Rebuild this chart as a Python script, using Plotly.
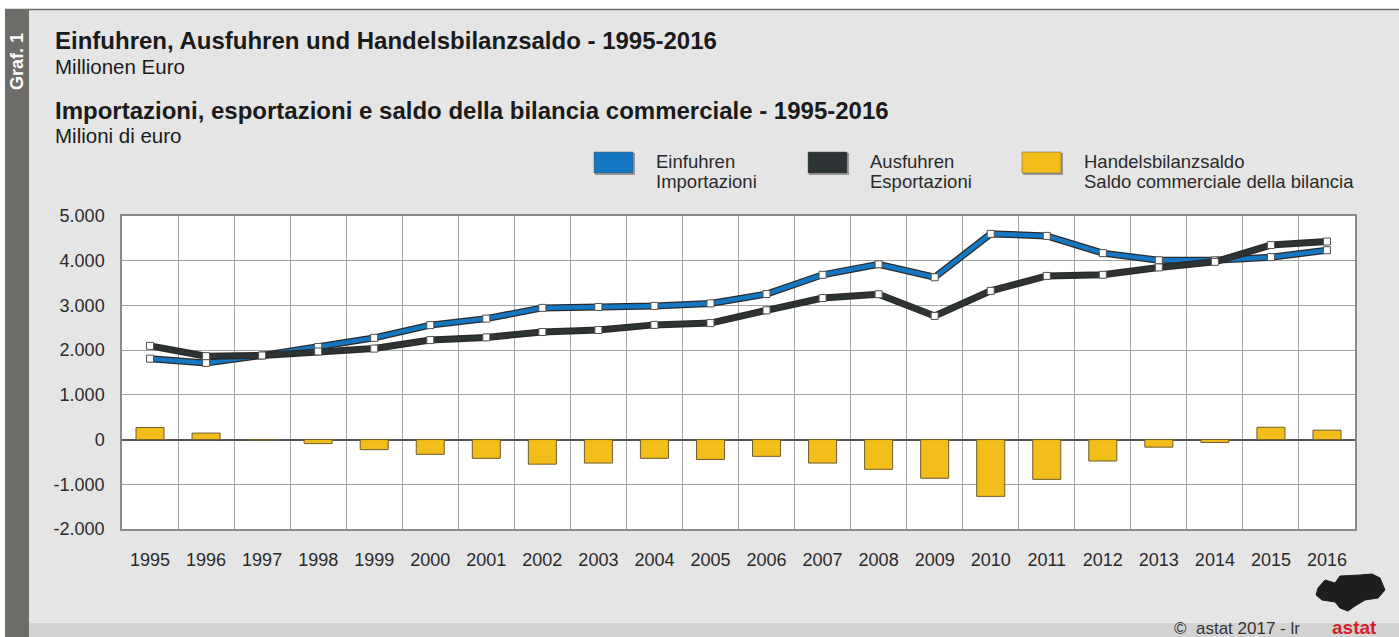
import plotly.graph_objects as go

# data (Mio. Euro)
years = [str(y) for y in range(1995, 2017)]
imports = [1810, 1715, 1880, 2070, 2275, 2560, 2705, 2945, 2965, 2990, 3045, 3255,
           3685, 3920, 3630, 4600, 4555, 4170, 4010, 4010, 4080, 4235]
exports = [2095, 1865, 1880, 1970, 2035, 2225, 2285, 2405, 2450, 2565, 2605, 2890,
           3165, 3250, 2765, 3325, 3660, 3685, 3850, 3975, 4350, 4430]
balance = [270, 145, -10, -90, -225, -330, -420, -550, -525, -420, -445, -375,
           -525, -665, -865, -1270, -890, -480, -170, -65, 275, 210]

y_ticks = [5000, 4000, 3000, 2000, 1000, 0, -1000, -2000]
y_labels = ['5.000', '4.000', '3.000', '2.000', '1.000', '0', '-1.000', '-2.000']

legend_names = [('Einfuhren', 'Importazioni'),
                ('Ausfuhren', 'Esportazioni'),
                ('Handelsbilanzsaldo', 'Saldo commerciale della bilancia')]

BLUE = '#1577c1'
BLACK = '#2e3335'
YELLOW = '#f3bd1c'
BG = '#e5e5e5'
FONT = 'Liberation Sans, Arial, sans-serif'

W, H = 1399, 637
L, R, T, B = 122, 1355, 216, 529  # plot area in pixels


def px(x):
    return (x - L) / (R - L)


def py(y):
    return (B - y) / (B - T)


fig = go.Figure()

fig.add_trace(go.Bar(
    x=years, y=balance, width=0.5,
    marker=dict(color=YELLOW, line=dict(color='#6f5d2a', width=1)),
    showlegend=False, hoverinfo='x+y'
))

# lines drawn twice: dark outline below, coloured line + markers on top
for vals, col in [(imports, BLUE), (exports, BLACK)]:
    fig.add_trace(go.Scatter(
        x=years, y=vals, mode='lines',
        line=dict(color='#2a2a2a', width=7),
        showlegend=False, hoverinfo='skip'
    ))
    fig.add_trace(go.Scatter(
        x=years, y=vals, mode='lines+markers',
        line=dict(color=col, width=4.5),
        marker=dict(symbol='square', size=7, color='white',
                    line=dict(color='#555555', width=1)),
        showlegend=False
    ))

shapes = []
annotations = []

# page background pieces
shapes.append(dict(type='rect', xref='paper', yref='paper', layer='below',
                   x0=px(0), x1=px(W), y0=py(0), y1=py(9),
                   fillcolor='white', line=dict(width=0)))
shapes.append(dict(type='rect', xref='paper', yref='paper', layer='below',
                   x0=px(0), x1=px(5), y0=py(0), y1=py(H),
                   fillcolor='white', line=dict(width=0)))
shapes.append(dict(type='line', xref='paper', yref='paper', layer='below',
                   x0=px(5), x1=px(W), y0=py(9.5), y1=py(9.5),
                   line=dict(color='#6e6c69', width=1.5)))
shapes.append(dict(type='rect', xref='paper', yref='paper', layer='below',
                   x0=px(5), x1=px(29), y0=py(9), y1=py(H),
                   fillcolor='#6e6c69', line=dict(width=0)))
shapes.append(dict(type='rect', xref='paper', yref='paper', layer='below',
                   x0=px(29), x1=px(W), y0=py(623), y1=py(H),
                   fillcolor='#d3d3d3', line=dict(width=0)))

annotations.append(dict(text='<b>Graf. 1</b>', textangle=-90, x=px(17), y=py(62),
                        xref='paper', yref='paper', xanchor='center', yanchor='middle',
                        showarrow=False,
                        font=dict(size=18, color='white', family=FONT)))

# titles
title_lines = [
    ('<b>Einfuhren, Ausfuhren und Handelsbilanzsaldo - 1995-2016</b>', 41, 24),
    ('Millionen Euro', 66, 20.5),
    ('<b>Importazioni, esportazioni e saldo della bilancia commerciale - 1995-2016</b>', 110, 24),
    ('Milioni di euro', 135, 20.5),
]
for txt, yy, sz in title_lines:
    annotations.append(dict(text=txt, x=px(53), y=py(yy), xref='paper', yref='paper',
                            xanchor='left', yanchor='middle', showarrow=False,
                            font=dict(size=sz, color='#1a1a1a', family=FONT)))

# legend
leg_x = [594, 808, 1022]
for (de, it), col, x0 in zip(legend_names, [BLUE, BLACK, YELLOW], leg_x):
    shapes.append(dict(type='rect', xref='paper', yref='paper',
                       x0=px(x0 + 1), x1=px(x0 + 41), y0=py(153), y1=py(175),
                       fillcolor='#9a9a9a', line=dict(width=0)))
    shapes.append(dict(type='rect', xref='paper', yref='paper',
                       x0=px(x0), x1=px(x0 + 39), y0=py(152), y1=py(173),
                       fillcolor=col, line=dict(color='#555555', width=0.5)))
    for txt, yy in [(de, 161), (it, 182)]:
        annotations.append(dict(text=txt, x=px(x0 + 60), y=py(yy), xref='paper', yref='paper',
                                xanchor='left', yanchor='middle', showarrow=False,
                                font=dict(size=18.5, color='#2a2a2a', family=FONT)))

# footer
annotations.append(dict(text='©  astat 2017 - lr', x=px(1302), y=py(628), xref='paper', yref='paper',
                        xanchor='right', yanchor='middle', showarrow=False,
                        font=dict(size=17, color='#333333', family=FONT)))
annotations.append(dict(text='<b>astat</b>', x=px(1354), y=py(627), xref='paper', yref='paper',
                        xanchor='center', yanchor='middle', showarrow=False,
                        font=dict(size=19, color='#d4202a', family=FONT)))

# logo: rough outline of the dotted map
logo = [(1318, 588), (1325, 580), (1335, 583), (1340, 576), (1360, 575), (1372, 574),
        (1380, 578), (1385, 590), (1378, 598), (1365, 600), (1355, 606), (1348, 611),
        (1340, 608), (1335, 602), (1322, 600), (1316, 595)]
path = 'M ' + ' L '.join(f'{px(a):.4f},{py(b):.4f}' for a, b in logo) + ' Z'
shapes.append(dict(type='path', xref='paper', yref='paper', path=path,
                   fillcolor='#1e1e1e', line=dict(color='#1e1e1e', width=1)))

fig.update_layout(
    width=W, height=H,
    margin=dict(l=L, r=W - R, t=T, b=H - B, pad=0),
    paper_bgcolor=BG, plot_bgcolor='white',
    font=dict(family=FONT, size=18, color='#2a2a2a'),
    bargap=0.5, showlegend=False,
    shapes=shapes, annotations=annotations,
)

fig.update_xaxes(
    type='category', tickson='boundaries', showgrid=True,
    gridcolor='#a3a3a3', gridwidth=1, ticks='', ticklabelstandoff=14,
    showline=True, linecolor='#8a8a8a', linewidth=1.5, mirror=True,
    range=[-0.5, 21.5], tickfont=dict(size=18)
)
fig.update_yaxes(
    range=[-2000, 5000], tickvals=y_ticks, ticktext=y_labels,
    showgrid=True, gridcolor='#a3a3a3', gridwidth=1,
    zeroline=True, zerolinecolor='#555555', zerolinewidth=1.5,
    showline=True, linecolor='#8a8a8a', linewidth=1.5, mirror=True,
    ticks='', ticklabelstandoff=12, tickfont=dict(size=18)
)

# drop the default page margin so the figure sits at the window's corner
fig.write_html('out.html', config={'displayModeBar': False},
               post_script="document.body.style.margin='0';")
